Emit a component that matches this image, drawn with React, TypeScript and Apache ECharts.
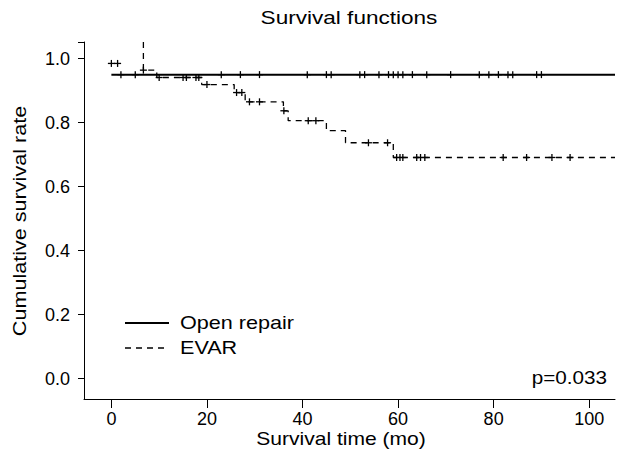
import React, { useEffect, useRef } from "react";
import * as echarts from "echarts";

const titleText = "Survival functions";
const xAxisName = "Survival time (mo)";
const yAxisName = "Cumulative survival rate";
const pValueText = "p=0.033";
const legendNames = ["Open repair", "EVAR"];

const xTicks = [0, 20, 40, 60, 80, 100];
const yTicks = [0, 0.2, 0.4, 0.6, 0.8, 1.0];
const xRange = [-5.73, 105.4];
const yRange = [-0.064, 1.052];

// Open repair step curve
const openTimes = [0, 105.4];
const openSurv = [0.95, 0.95];
const openCensorTimes = [2, 5, 23, 27, 31, 41, 45, 46, 52, 53, 56, 58, 59, 60, 61, 63, 66, 71, 77, 79, 81, 83, 84, 89, 90];
const openCensorSurv = openCensorTimes.map(() => 0.95);

// EVAR step curve (value after each time)
const evarTimes = [6.7, 6.7, 9.5, 18.9, 25.7, 28, 36, 37, 45, 49, 59, 105.4];
const evarSurv = [1.052, 0.964, 0.941, 0.919, 0.894, 0.865, 0.837, 0.806, 0.775, 0.737, 0.691, 0.691];
const evarCensorTimes = [0, 1.3, 6.7, 10, 15, 15.7, 17.7, 18.3, 20, 26.2, 27.3, 28.9, 31, 36.1, 41.2, 42.8, 53.8, 57.8, 59.7, 60.4, 61, 63.9, 64.7, 65.6, 82, 86.9, 92.2, 96];
const evarCensorSurv = [0.985, 0.985, 0.964, 0.941, 0.941, 0.941, 0.941, 0.941, 0.919, 0.894, 0.894, 0.865, 0.865, 0.837, 0.806, 0.806, 0.737, 0.737, 0.691, 0.691, 0.691, 0.691, 0.691, 0.691, 0.691, 0.691, 0.691, 0.691];

const FONT = "'Liberation Sans', Arial, sans-serif";

function censorSeries(name: string, times: number[], surv: number[]) {
  return {
    type: "custom",
    name,
    data: times.map((t, i) => [t, surv[i]]),
    renderItem: (params: any, api: any) => {
      const p = api.coord([api.value(0), api.value(1)]);
      const h = 3.5;
      return {
        type: "group",
        children: [
          { type: "line", shape: { x1: p[0] - h, y1: p[1], x2: p[0] + h, y2: p[1] }, style: { stroke: "#000", lineWidth: 1.3 } },
          { type: "line", shape: { x1: p[0], y1: p[1] - h, x2: p[0], y2: p[1] + h }, style: { stroke: "#000", lineWidth: 1.3 } },
        ],
      };
    },
    z: 5,
  };
}

function label(text: string, x: number, y: number, align: string, size: number, sx: number, rotation = 0) {
  return {
    type: "text",
    x,
    y,
    rotation,
    scaleX: sx,
    style: { text, fontSize: size, fontFamily: FONT, fill: "#000", align, verticalAlign: "middle" },
  };
}

export default function App() {
  const ref = useRef<HTMLDivElement>(null);
  useEffect(() => {
    if (!ref.current) return;
    const chart = echarts.init(ref.current, undefined, { renderer: "svg" });
    chart.setOption({
      animation: false,
      backgroundColor: "#fff",
      textStyle: { fontFamily: FONT },
      grid: { left: 84, top: 42, right: 2, bottom: 62 },
      xAxis: {
        type: "value",
        min: xRange[0],
        max: xRange[1],
        splitLine: { show: false },
        axisLine: { show: true, onZero: false, lineStyle: { color: "#000", width: 1 } },
        axisTick: { show: true, inside: false, length: 9, customValues: xTicks, lineStyle: { color: "#000" } },
        axisLabel: { customValues: xTicks, margin: 11, color: "#000", fontSize: 18, fontFamily: FONT, formatter: (v: number) => String(v) },
      },
      yAxis: {
        type: "value",
        min: yRange[0],
        max: yRange[1],
        splitLine: { show: false },
        axisLine: { show: true, onZero: false, lineStyle: { color: "#000", width: 1 } },
        axisTick: { show: true, inside: false, length: 6, customValues: [...yTicks, yRange[1]], lineStyle: { color: "#000" } },
        axisLabel: { customValues: yTicks, margin: 14, color: "#000", fontSize: 18, fontFamily: FONT, formatter: (v: number) => v.toFixed(1) },
      },
      series: [
        {
          type: "line",
          name: legendNames[0],
          step: "end",
          data: openTimes.map((t, i) => [t, openSurv[i]]),
          showSymbol: false,
          lineStyle: { color: "#000", width: 2 },
        },
        {
          type: "line",
          name: legendNames[1],
          step: "end",
          data: evarTimes.map((t, i) => [t, evarSurv[i]]),
          showSymbol: false,
          lineStyle: { color: "#000", width: 1.3, type: [6, 5] },
        },
        censorSeries("open-censor", openCensorTimes, openCensorSurv),
        censorSeries("evar-censor", evarCensorTimes, evarCensorSurv),
      ],
      graphic: [
        label(titleText, 349, 17, "center", 18.5, 1.22),
        label(xAxisName, 341, 439, "center", 18, 1.17),
        label(yAxisName, 20, 221, "center", 18, 1.2, Math.PI / 2),
        { type: "line", shape: { x1: 125, y1: 323, x2: 169, y2: 323 }, style: { stroke: "#000", lineWidth: 2 } },
        { type: "line", shape: { x1: 125, y1: 348, x2: 169, y2: 348 }, style: { stroke: "#000", lineWidth: 1.3, lineDash: [6, 5] } },
        label(legendNames[0], 180, 323, "left", 18, 1.2),
        label(legendNames[1], 180, 348, "left", 18, 1.2),
        label(pValueText, 607, 378, "right", 18, 1.15),
      ],
    });
    return () => chart.dispose();
  }, []);
  return <div ref={ref} style={{ width: 617, height: 461, position: "absolute", left: 0, top: 0 }} />;
}
